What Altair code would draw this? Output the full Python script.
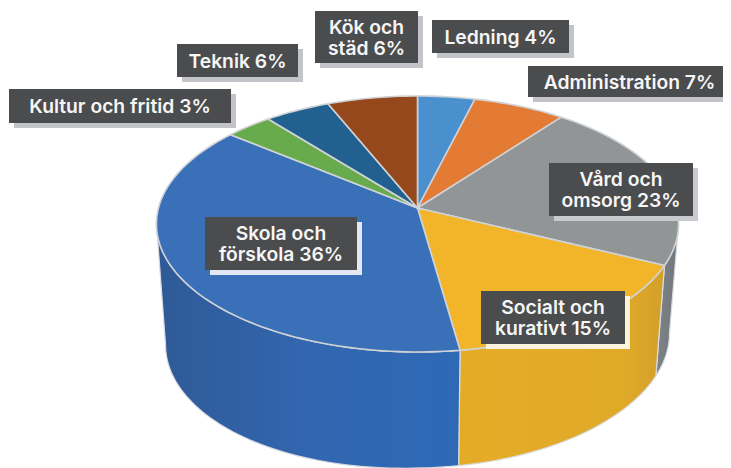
import math
import altair as alt

names = ["Ledning", "Administration", "Vård och omsorg", "Socialt och kurativt",
         "Skola och förskola", "Kultur och fritid", "Teknik", "Kök och städ"]
shares = [4.0, 6.45, 21.65, 15.6, 38.1, 3.3, 4.6, 6.3]
top_colors = ["#4a90cf", "#e47b35", "#929595", "#f2b52a", "#3a70b8", "#68ab4d", "#21608f", "#94481b"]

# Labels: box left, right, top, bottom, then text lines with centre y
label_lines = [["Kök och", "städ 6%"], ["Ledning 4%"], ["Administration 7%"], ["Teknik 6%"],
               ["Kultur och fritid 3%"], ["Vård och", "omsorg 23%"],
               ["Skola och", "förskola 36%"], ["Socialt och", "kurativt 15%"]]
label_boxes = [(315, 418, 11, 63), (432, 569, 20, 53), (528, 731, 66, 97), (177, 298, 44, 77),
               (9, 231, 89, 123), (549, 693, 163, 216), (205, 357, 217, 270), (481, 625, 291, 344)]
shadow_colors = ["#c2c4ca", "#c2c4ca", "#c2c4ca", "#c2c4ca", "#c2c4ca", "#c8cad0", "#e4e8f4", "#fbf3dc"]

W, H = 715, 460
K = 0.125


def top_rim(a):
    u, v = math.sin(a), -math.cos(a)
    w = 1 - K * v
    return [417.5 + 259 * u / w, 208 + 126 * v / w]


def bottom_rim(a):
    u, v = math.sin(a), -math.cos(a)
    w = 1 - K * v
    x = 417.5 + 250 * u / w
    y = 320.6 + 129 * v / w
    y += -0.03 * (x - 417.5) if x < 417.5 else -0.015 * (x - 417.5)
    return [x, y]


def feature(ring, name):
    ring = ring + [ring[0]]
    return {"type": "Feature", "properties": {"name": name},
            "geometry": {"type": "Polygon", "coordinates": [ring]}}


def arc_angles(a0, a1):
    n = max(2, int(abs(a1 - a0) / math.radians(1.5)))
    return [a0 + (a1 - a0) * i / n for i in range(n + 1)]


edges = [0.0]
for s in shares:
    edges.append(edges[-1] + s / 100 * 2 * math.pi)

tops = []
for i, name in enumerate(names):
    ring = [[417.5, 208.0]] + [top_rim(a) for a in arc_angles(edges[i], edges[i + 1])]
    tops.append(feature(ring, name))


def wall(a0, a1, name):
    angs = arc_angles(a0, a1)
    return feature([top_rim(a) for a in angs] + [bottom_rim(a) for a in reversed(angs)], name)


PROJ = dict(type="identity", scale=1, translate=[-8, -8])


def grad(stops):
    return alt.Gradient(gradient="linear", x1=0, x2=1, y1=0, y2=0,
                        stops=[alt.GradientStop(offset=o, color=c) for o, c in stops])


wall_specs = [
    (math.radians(97.2), edges[3], names[2], [(0, "#7f8487"), (1, "#6f7579")]),
    (edges[3], edges[4], names[3], [(0, "#e4ac26"), (0.8, "#e0a928"), (1, "#d3a02c")]),
    (edges[4], math.radians(263), names[4], [(0, "#2f5a96"), (0.5, "#3266b0"), (1, "#2e69b6")]),
]
layers = []
for a0, a1, name, stops in wall_specs:
    layers.append(
        alt.Chart(alt.Data(values=[wall(a0, a1, name)]))
        .mark_geoshape(fill=grad(stops), stroke="#d8dbdf", strokeWidth=1.2)
        .project(**PROJ)
    )

scale_c = alt.Scale(domain=names, range=top_colors)
layers.append(
    alt.Chart(alt.Data(values=tops))
    .mark_geoshape(stroke="#cfd3d7", strokeWidth=1.6, strokeJoin="round")
    .encode(color=alt.Color("properties.name:N", scale=scale_c, legend=None))
    .project(**PROJ)
)

x_s = alt.Scale(domain=[8, 8 + W], range=[0, W], nice=False, zero=False)
y_s = alt.Scale(domain=[8, 8 + H], range=[0, H], nice=False, zero=False)

boxes = []
shadows = []
texts = []
for lines, (l, r, t, b), sc in zip(label_lines, label_boxes, shadow_colors):
    boxes.append({"l": l, "r": min(r, 8 + W), "t": t, "b": b})
    shadows.append({"l": l + 5, "r": min(r + 5, 8 + W), "t": t + 5, "b": b + 5, "c": sc})
    mid = (t + b) / 2 + 1
    for j, line in enumerate(lines):
        texts.append({"x": (l + r) / 2, "y": mid + (j - (len(lines) - 1) / 2) * 21, "s": line})

X = alt.X("l:Q", scale=x_s, axis=None)
Y = alt.Y("t:Q", scale=y_s, axis=None)
layers.append(
    alt.Chart(alt.Data(values=shadows)).mark_rect()
    .encode(x=X, x2="r:Q", y=Y, y2="b:Q", color=alt.Color("c:N", scale=None))
)
layers.append(
    alt.Chart(alt.Data(values=boxes)).mark_rect(color="#4b4c4e")
    .encode(x=X, x2="r:Q", y=Y, y2="b:Q")
)
layers.append(
    alt.Chart(alt.Data(values=texts))
    .mark_text(color="#f6f6f6", font="Inter", fontWeight=600, fontSize=19.3, baseline="middle", align="center")
    .encode(x=alt.X("x:Q", scale=x_s, axis=None), y=alt.Y("y:Q", scale=y_s, axis=None), text="s:N")
)

chart = (
    alt.layer(*layers)
    .resolve_scale(color="independent")
    .properties(width=W, height=H, padding=0, autosize=alt.AutoSizeParams(type="none"), background="white")
    .configure_view(stroke=None)
)
chart.save("out.html", embed_options={"renderer": "svg", "actions": False})
